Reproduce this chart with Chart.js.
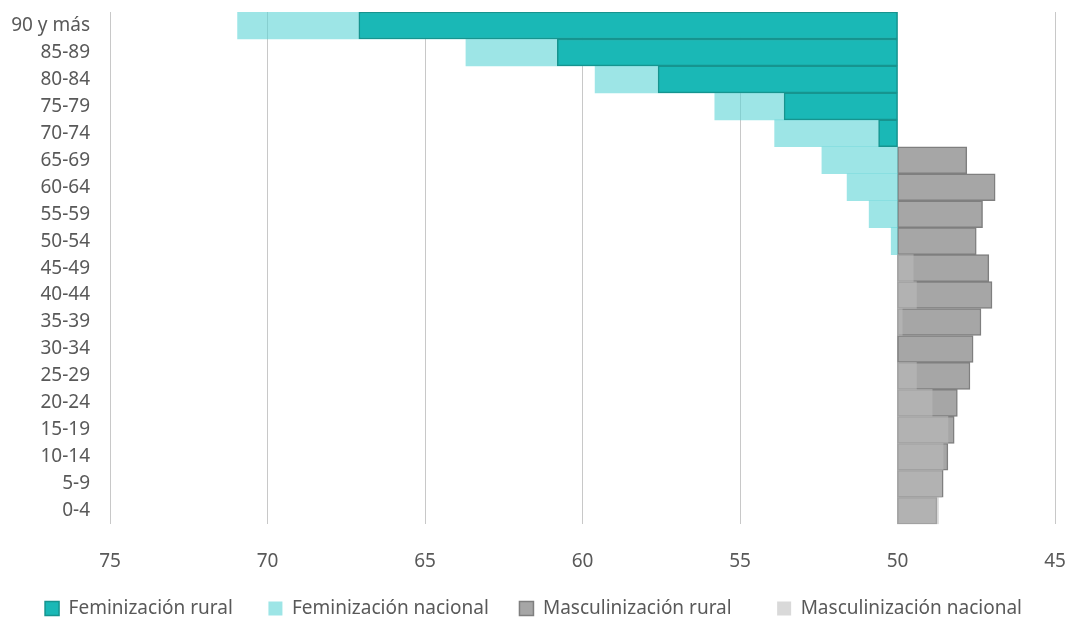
<!DOCTYPE html>
<html>
<head>
<meta charset="utf-8">
<script src="https://cdn.jsdelivr.net/npm/chart.js@4.4.1/dist/chart.umd.min.js"></script>
<style>
    html, body { margin: 0; padding: 0; background: #fff; }
</style>
</head>
<body>
<canvas id="myChart" width="1068" height="621"></canvas>
<script>
// Age groups, top to bottom
const ageGroups = ['90 y más', '85-89', '80-84', '75-79', '70-74', '65-69', '60-64', '55-59', '50-54',
    '45-49', '40-44', '35-39', '30-34', '25-29', '20-24', '15-19', '10-14', '5-9', '0-4'];

// Values (bars start at 50)
const femRural    = [67.1, 60.8, 57.6, 53.6, 50.6, null, null, null, null, null, null, null, null, null, null, null, null, null, null];
const femNacional = [70.95, 63.7, 59.6, 55.8, 53.9, 52.4, 51.6, 50.9, 50.2, null, null, null, null, null, null, null, null, null, null];
const mascRural   = [null, null, null, null, null, 47.8, 46.9, 47.3, 47.5, 47.1, 47.0, 47.35, 47.6, 47.7, 48.1, 48.2, 48.4, 48.55, 48.75];
const mascNacional = [null, null, null, null, null, null, null, null, null, 49.5, 49.4, 49.85, null, 49.4, 48.9, 48.4, 48.55, 48.6, 48.7];

const xTicks = [75, 70, 65, 60, 55, 50, 45];
const base = 50;

// floating bars from 50 to the value
function toBars(arr) {
    return arr.map(v => v == null ? null : [base, v]);
}

Chart.defaults.font.family = "'Noto Sans', sans-serif";
Chart.defaults.font.size = 19;
Chart.defaults.color = '#595959';

// trailing spaces after each legend text (spacing between entries)
const legendGaps = [7, 6, 9, 0];

const ctx = document.querySelector('#myChart').getContext('2d');
const myChart = new Chart(ctx, {
    type: 'bar',
    data: {
        labels: ageGroups,
        datasets: [{
            label: 'Feminización rural',
            data: toBars(femRural),
            backgroundColor: '#1ab8b6',
            borderColor: '#16948f',
            borderWidth: 1.5,
            borderSkipped: false,
            grouped: false,
            order: 0
        }, {
            label: 'Feminización nacional',
            data: toBars(femNacional),
            backgroundColor: 'rgba(92, 212, 213, 0.6)',
            borderWidth: 0,
            grouped: false,
            order: 1
        }, {
            label: 'Masculinización rural',
            data: toBars(mascRural),
            backgroundColor: '#a6a6a6',
            borderColor: '#7f7f7f',
            borderWidth: 1.5,
            borderSkipped: false,
            grouped: false,
            order: 1
        }, {
            label: 'Masculinización nacional',
            data: toBars(mascNacional),
            backgroundColor: 'rgba(187, 187, 187, 0.56)',
            borderWidth: 0,
            grouped: false,
            order: -1
        }]
    },
    options: {
        responsive: false,
        animation: false,
        indexAxis: 'y',
        barPercentage: 1,
        categoryPercentage: 1,
        layout: {
            padding: { top: 12, right: 13, bottom: -7, left: 12 }
        },
        scales: {
            x: {
                min: 45,
                max: 75,
                reverse: true,
                afterBuildTicks: (scale) => {
                    scale.ticks = xTicks.map(v => ({ value: v }));
                },
                afterFit: (scale) => {
                    scale.paddingLeft = 0;
                    scale.paddingRight = 0;
                },
                grid: {
                    color: '#c8c8c8',
                    drawTicks: false
                },
                border: { display: false },
                ticks: { padding: 25.5 }
            },
            y: {
                grid: { display: false, drawTicks: false },
                border: { display: false },
                ticks: { padding: 20, autoSkip: false },
                afterFit: (scale) => {
                    scale.width = 98;
                    scale.paddingTop = 0;
                    scale.paddingBottom = 0;
                }
            }
        },
        plugins: {
            legend: {
                position: 'bottom',
                labels: {
                    boxWidth: 14,
                    boxHeight: 14,
                    padding: 1,
                    sort: (a, b) => a.datasetIndex - b.datasetIndex,
                    generateLabels: (chart) => {
                        const items = Chart.defaults.plugins.legend.labels.generateLabels(chart);
                        items.forEach((item) => {
                            item.text = item.text + ' '.repeat(legendGaps[item.datasetIndex]);
                        });
                        return items;
                    }
                }
            },
            tooltip: { enabled: false }
        }
    }
});
</script>
</body>
</html>
